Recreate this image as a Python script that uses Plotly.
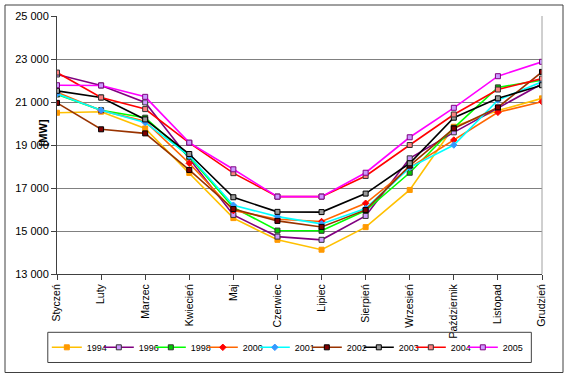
import plotly.graph_objects as go

months = ["Styczeń", "Luty", "Marzec", "Kwiecień", "Maj", "Czerwiec", "Lipiec",
          "Sierpień", "Wrzesień", "Październik", "Listopad", "Grudzień"]

y1994 = [20500, 20550, 19770, 17700, 15600, 14590, 14130, 15180, 16910, 19850, 20600, 21170]
y1996 = [22280, 21770, 20980, 18340, 15750, 14740, 14590, 15700, 18380, 19590, 20700, 21850]
y1998 = [21350, 20620, 20270, 18450, 16100, 15020, 15010, 15950, 17710, 19800, 21680, 22020]
y2000 = [21450, 20600, 20100, 18150, 15950, 15550, 15440, 16290, 17950, 19230, 20520, 21010]
y2001 = [21380, 20620, 20050, 18500, 16200, 15670, 15330, 16050, 17950, 19000, 21090, 21940]
y2002 = [20960, 19730, 19540, 17840, 16020, 15470, 15190, 15980, 18040, 19770, 20750, 22400]
y2003 = [21520, 21210, 20190, 18580, 16570, 15890, 15880, 16740, 18150, 20270, 21170, 21780]
y2004 = [22370, 21210, 20670, 19100, 17690, 16600, 16600, 17560, 19000, 20420, 21580, 22090]
y2005 = [21780, 21770, 21240, 19110, 17870, 16600, 16600, 17710, 19360, 20730, 22200, 22870]

series = [
    ("1994", y1994, "#FFC000", "square", "#FF9900", "#FF9900"),
    ("1996", y1996, "#800080", "square", "#CC99FF", "#333333"),
    ("1998", y1998, "#00FF00", "square", "#00CC00", "#333333"),
    ("2000", y2000, "#FF6600", "diamond", "#FF0000", "#FF0000"),
    ("2001", y2001, "#00FFFF", "diamond", "#3399FF", "#3399FF"),
    ("2002", y2002, "#993300", "square", "#800000", "#000000"),
    ("2003", y2003, "#000000", "square", "#999999", "#000000"),
    ("2004", y2004, "#FF0000", "square", "#FF8080", "#333333"),
    ("2005", y2005, "#FF00FF", "square", "#CC99FF", "#800080"),
]

fig = go.Figure()
for name, vals, lc, sym, mfill, mline in series:
    fig.add_trace(go.Scatter(
        x=months, y=vals, name=name, mode="lines+markers",
        line=dict(color=lc, width=1.6),
        marker=dict(symbol=sym, size=5, color=mfill, line=dict(color=mline, width=1)),
    ))
# spacer entry so the last legend label is not clipped
fig.add_trace(go.Scatter(x=[None], y=[None], name="\u00a0", mode="lines",
                         line=dict(color="rgba(0,0,0,0)"), hoverinfo="skip"))

font_family = "Arial, Liberation Sans, sans-serif"
fig.update_layout(
    width=570, height=378,
    margin=dict(l=57, r=28, t=16, b=104, autoexpand=False),
    paper_bgcolor="white", plot_bgcolor="white",
    separators=", ",
    font=dict(family=font_family, size=11, color="#000000"),
    showlegend=True,
    legend=dict(
        orientation="h", x=-0.021, y=-0.228, xanchor="left", yanchor="top",
        borderwidth=0, bgcolor="rgba(0,0,0,0)",
        font=dict(size=9), entrywidth=7, itemwidth=30,
    ),
    xaxis=dict(
        type="category", range=[0, 11], showgrid=False,
        showline=True, linecolor="#404040", linewidth=1,
        ticks="outside", ticklen=5, tickcolor="#404040",
        tickangle=-90, tickfont=dict(size=10.5),
    ),
    yaxis=dict(
        range=[13000, 25000], dtick=2000, tick0=13000, tickformat=",d",
        showgrid=True, gridcolor="#808080", gridwidth=1,
        showline=True, linecolor="#404040", linewidth=1,
        ticks="outside", ticklen=5, tickcolor="#404040",
        tickfont=dict(size=11), zeroline=False,
    ),
    annotations=[dict(
        text="<b>[MW]</b>", xref="paper", yref="paper",
        x=-0.045, y=0.546, showarrow=False, textangle=-90,
        font=dict(size=11, family=font_family),
    )],
    shapes=[
        dict(type="line", xref="paper", yref="paper", x0=1, x1=1, y0=0, y1=1,
             line=dict(color="#A0A0A0", width=1)),
        dict(type="rect", xref="paper", yref="paper",
             x0=-0.1072, x1=1.0433, y0=-0.3818, y1=1.0426,
             line=dict(color="#404040", width=1)),
        # legend frame
        dict(type="rect", xref="paper", yref="paper",
             x0=-0.019, x1=0.978, y0=-0.343, y1=-0.226,
             line=dict(color="#404040", width=1)),
    ],
)

fig.write_html("out.html", config={"displayModeBar": False},
               post_script="document.body.style.margin='0px';")
